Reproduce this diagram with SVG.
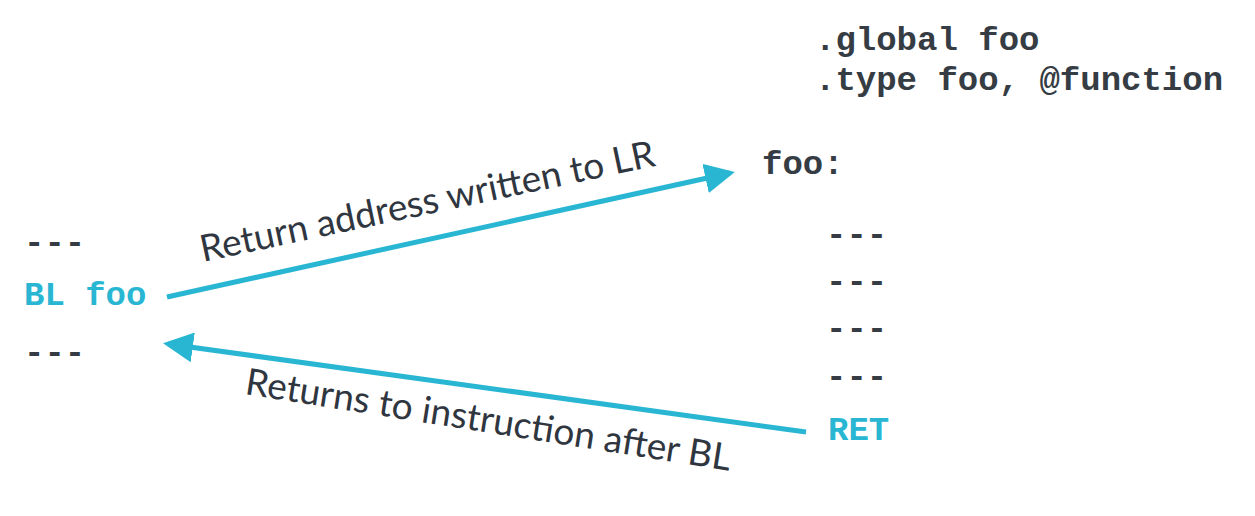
<svg xmlns="http://www.w3.org/2000/svg" width="1255" height="516" viewBox="0 0 1255 516">
<style>
.code{font-family:"Liberation Mono","Courier New",monospace;font-weight:bold;font-size:34px;fill:#353c43}
.hl{fill:#29b6d3}
.lbl{font-family:Lato,"Open Sans",sans-serif;font-size:37px;fill:#2f3640}
.conn{stroke:#29b6d3;stroke-width:5;fill:none}
</style>
<defs>
<marker id="ah" markerWidth="6" markerHeight="6" refX="5" refY="3" orient="auto" markerUnits="strokeWidth">
<path d="M0,0 L6,3 L0,6 Z" fill="#29b6d3"/>
</marker>
</defs>
<rect width="1255" height="516" fill="#ffffff"/>
<g id="directives">
<text class="code" x="815" y="50">.global foo</text>
<text class="code" x="815" y="90">.type foo, @function</text>
</g>
<g id="caller">
<text class="code" x="24" y="253">---</text>
<text class="code hl" x="24" y="305">BL foo</text>
<text class="code" x="24" y="363">---</text>
</g>
<g id="callee">
<text class="code" x="762" y="174">foo:</text>
<text class="code" x="826" y="245">---</text>
<text class="code" x="826" y="292">---</text>
<text class="code" x="826" y="339">---</text>
<text class="code" x="826" y="387">---</text>
<text class="code hl" x="828" y="440">RET</text>
</g>
<g id="connectors">
<line class="conn" x1="167" y1="297" x2="730" y2="173" marker-end="url(#ah)"/>
<line class="conn" x1="806" y1="432" x2="168" y2="344" marker-end="url(#ah)"/>
<text class="lbl" transform="translate(203,262) rotate(-12)">Return address written to LR</text>
<text class="lbl" transform="translate(244,394) rotate(9)">Returns to instruction after BL</text>
</g>
</svg>
